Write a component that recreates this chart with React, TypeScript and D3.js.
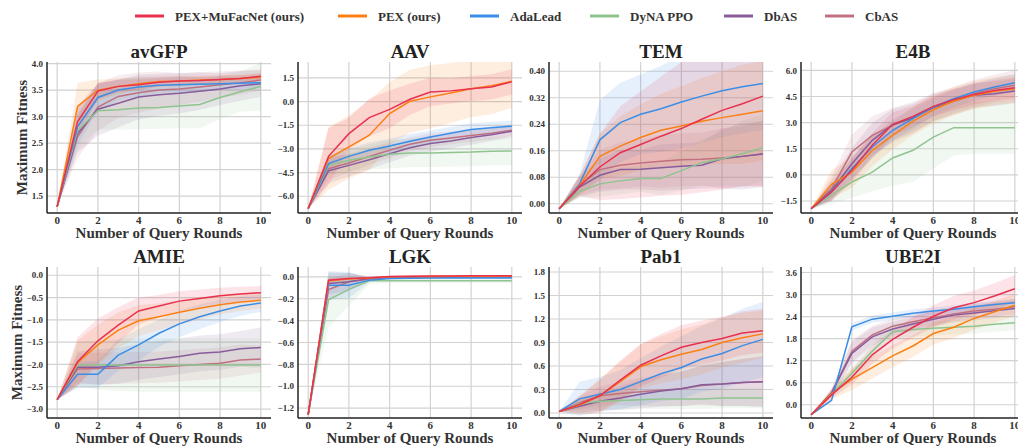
import React from "react";
import * as d3 from "d3";

// ---------- data ----------
const rounds = [0, 1, 2, 3, 4, 5, 6, 7, 8, 9, 10];
const methods = ["PEX+MuFacNet (ours)", "PEX (ours)", "AdaLead", "DyNA PPO", "DbAS", "CbAS"];
const methodColors = ["#e8304f", "#fb7f12", "#3b8ee6", "#8fc48f", "#875c9c", "#c0707f"];
const xTicks = [0, 2, 4, 6, 8, 10];

// order of series in every array: PEX+MuFacNet, PEX, AdaLead, DyNA PPO, DbAS, CbAS
const avGFPMean = [
  [1.3, 2.9, 3.48, 3.57, 3.6, 3.65, 3.67, 3.68, 3.7, 3.72, 3.76],
  [1.3, 3.19, 3.5, 3.57, 3.62, 3.66, 3.67, 3.69, 3.7, 3.72, 3.74],
  [1.3, 2.81, 3.36, 3.5, 3.56, 3.59, 3.6, 3.61, 3.62, 3.63, 3.64],
  [1.3, 2.74, 3.11, 3.13, 3.16, 3.17, 3.2, 3.23, 3.36, 3.47, 3.57],
  [1.3, 2.68, 3.14, 3.25, 3.37, 3.41, 3.44, 3.48, 3.52, 3.58, 3.62],
  [1.3, 2.62, 3.18, 3.38, 3.45, 3.5, 3.52, 3.56, 3.6, 3.64, 3.69],
];
const avGFPSd = [
  [0, 0.3, 0.15, 0.12, 0.1, 0.08, 0.08, 0.07, 0.07, 0.06, 0.06],
  [0, 0.45, 0.2, 0.15, 0.12, 0.1, 0.1, 0.08, 0.08, 0.07, 0.07],
  [0, 0.35, 0.25, 0.2, 0.18, 0.15, 0.15, 0.13, 0.12, 0.12, 0.1],
  [0, 0.35, 0.35, 0.38, 0.4, 0.4, 0.42, 0.45, 0.4, 0.38, 0.45],
  [0, 0.35, 0.5, 0.45, 0.42, 0.4, 0.38, 0.35, 0.3, 0.28, 0.25],
  [0, 0.4, 0.45, 0.4, 0.38, 0.35, 0.3, 0.28, 0.25, 0.23, 0.2],
];

const aavMean = [
  [-6.78, -3.47, -2.03, -1.01, -0.49, 0.15, 0.61, 0.68, 0.82, 0.93, 1.25],
  [-6.78, -3.61, -2.87, -2.13, -0.76, 0.02, 0.3, 0.55, 0.82, 1.0, 1.29],
  [-6.78, -3.93, -3.47, -3.08, -2.81, -2.51, -2.24, -2.0, -1.77, -1.66, -1.56],
  [-6.78, -4.04, -3.72, -3.51, -3.34, -3.25, -3.25, -3.22, -3.2, -3.15, -3.13],
  [-6.78, -4.39, -4.04, -3.68, -3.3, -2.92, -2.66, -2.5, -2.28, -2.1, -1.88],
  [-6.78, -4.25, -3.89, -3.47, -3.08, -2.7, -2.45, -2.3, -2.15, -2.0, -1.82],
];
const aavSd = [
  [0, 1.8, 1.0, 1.2, 1.2, 1.0, 0.9, 0.8, 0.8, 0.8, 0.8],
  [0, 2.0, 2.0, 2.2, 2.0, 2.0, 2.0, 1.9, 1.8, 1.8, 1.7],
  [0, 0.6, 0.5, 0.5, 0.45, 0.45, 0.4, 0.4, 0.4, 0.38, 0.35],
  [0, 0.6, 0.7, 0.8, 0.9, 0.9, 0.9, 0.9, 0.9, 0.9, 0.9],
  [0, 0.8, 0.7, 0.6, 0.55, 0.5, 0.5, 0.45, 0.45, 0.4, 0.4],
  [0, 0.7, 0.6, 0.55, 0.5, 0.45, 0.45, 0.4, 0.4, 0.4, 0.35],
];

const temMean = [
  [-0.015, 0.053, 0.111, 0.154, 0.179, 0.204, 0.227, 0.255, 0.282, 0.302, 0.325],
  [-0.015, 0.055, 0.143, 0.174, 0.2, 0.222, 0.235, 0.249, 0.26, 0.27, 0.281],
  [-0.015, 0.06, 0.193, 0.245, 0.27, 0.287, 0.307, 0.325, 0.341, 0.353, 0.363],
  [-0.015, 0.037, 0.06, 0.069, 0.076, 0.076, 0.1, 0.124, 0.136, 0.151, 0.169],
  [-0.015, 0.05, 0.086, 0.103, 0.104, 0.109, 0.113, 0.116, 0.136, 0.143, 0.15],
  [-0.015, 0.055, 0.103, 0.116, 0.123, 0.128, 0.133, 0.134, 0.138, 0.143, 0.151],
];
const temSd = [
  [0, 0.03, 0.1, 0.14, 0.16, 0.18, 0.2, 0.22, 0.24, 0.25, 0.27],
  [0, 0.03, 0.07, 0.09, 0.1, 0.11, 0.12, 0.13, 0.14, 0.15, 0.15],
  [0, 0.03, 0.12, 0.12, 0.12, 0.13, 0.14, 0.14, 0.14, 0.14, 0.14],
  [0, 0.02, 0.04, 0.04, 0.04, 0.05, 0.06, 0.07, 0.08, 0.1, 0.1],
  [0, 0.03, 0.05, 0.06, 0.06, 0.07, 0.07, 0.07, 0.09, 0.1, 0.1],
  [0, 0.03, 0.06, 0.07, 0.07, 0.08, 0.08, 0.08, 0.09, 0.09, 0.1],
];

const e4bMean = [
  [-1.94, -0.98, 0.26, 1.7, 2.9, 3.36, 3.93, 4.32, 4.62, 4.85, 5.0],
  [-1.94, -0.54, 0.16, 1.4, 2.27, 3.09, 3.74, 4.24, 4.57, 4.8, 4.95],
  [-1.94, -0.98, 0.36, 1.6, 2.56, 3.23, 3.9, 4.37, 4.76, 5.04, 5.29],
  [-1.94, -1.17, -0.41, 0.16, 0.97, 1.41, 2.17, 2.71, 2.71, 2.71, 2.71],
  [-1.94, -0.9, 0.64, 1.98, 2.88, 3.28, 3.86, 4.24, 4.57, 4.66, 4.81],
  [-1.94, -0.79, 1.31, 2.27, 2.84, 3.28, 3.9, 4.24, 4.66, 4.95, 5.14],
];
const e4bSd = [
  [0, 0.5, 0.7, 0.7, 0.7, 0.6, 0.6, 0.6, 0.6, 0.6, 0.6],
  [0, 0.8, 0.9, 0.9, 0.8, 0.8, 0.8, 0.8, 0.8, 0.8, 0.8],
  [0, 0.4, 0.6, 0.6, 0.6, 0.6, 0.5, 0.5, 0.5, 0.5, 0.5],
  [0, 0.5, 0.9, 1.1, 1.6, 1.8, 1.8, 1.6, 1.5, 1.5, 1.5],
  [0, 0.6, 0.9, 1.0, 0.9, 0.8, 0.8, 0.7, 0.7, 0.7, 0.7],
  [0, 0.7, 1.0, 1.1, 1.0, 0.9, 0.8, 0.8, 0.8, 0.8, 0.9],
];

const amieMean = [
  [-2.79, -1.94, -1.47, -1.12, -0.8, -0.69, -0.58, -0.52, -0.46, -0.42, -0.39],
  [-2.79, -1.96, -1.56, -1.23, -1.02, -0.93, -0.83, -0.74, -0.66, -0.6, -0.56],
  [-2.79, -2.22, -2.22, -1.79, -1.56, -1.3, -1.09, -0.93, -0.8, -0.69, -0.62],
  [-2.79, -2.01, -2.01, -2.01, -2.01, -2.01, -2.01, -2.01, -2.01, -2.01, -2.01],
  [-2.79, -2.06, -2.06, -2.03, -1.94, -1.88, -1.82, -1.75, -1.72, -1.65, -1.62],
  [-2.79, -2.1, -2.09, -2.08, -2.07, -2.06, -2.03, -2.0, -1.97, -1.9, -1.88],
];
const amieSd = [
  [0, 0.55, 0.5, 0.4, 0.3, 0.25, 0.22, 0.2, 0.18, 0.16, 0.15],
  [0, 0.5, 0.45, 0.4, 0.35, 0.3, 0.28, 0.25, 0.22, 0.2, 0.18],
  [0, 0.3, 0.3, 0.35, 0.35, 0.3, 0.3, 0.28, 0.25, 0.22, 0.2],
  [0, 0.5, 0.55, 0.58, 0.6, 0.6, 0.6, 0.6, 0.6, 0.6, 0.6],
  [0, 0.35, 0.4, 0.4, 0.4, 0.4, 0.4, 0.4, 0.4, 0.4, 0.45],
  [0, 0.35, 0.35, 0.35, 0.35, 0.35, 0.35, 0.35, 0.35, 0.35, 0.3],
];

const lgkMean = [
  [-1.26, -0.03, -0.015, -0.008, 0.004, 0.006, 0.007, 0.008, 0.009, 0.01, 0.01],
  [-1.26, -0.036, -0.02, -0.01, 0.0, 0.003, 0.004, 0.005, 0.006, 0.006, 0.007],
  [-1.26, -0.076, -0.076, -0.03, -0.015, -0.012, -0.011, -0.01, -0.01, -0.01, -0.01],
  [-1.26, -0.21, -0.115, -0.036, -0.036, -0.036, -0.036, -0.036, -0.036, -0.036, -0.036],
  [-1.26, -0.06, -0.045, -0.015, -0.005, -0.003, -0.002, -0.001, 0.0, 0.0, 0.0],
  [-1.26, -0.115, -0.045, -0.02, -0.008, -0.005, -0.003, -0.002, 0.0, 0.0, 0.0],
];
const lgkSd = [
  [0, 0.02, 0.01, 0.005, 0.005, 0.005, 0.005, 0.005, 0.005, 0.005, 0.005],
  [0, 0.03, 0.015, 0.008, 0.005, 0.005, 0.005, 0.005, 0.005, 0.005, 0.005],
  [0, 0.13, 0.12, 0.02, 0.01, 0.01, 0.01, 0.01, 0.01, 0.01, 0.01],
  [0, 0.25, 0.15, 0.03, 0.02, 0.02, 0.02, 0.02, 0.02, 0.02, 0.02],
  [0, 0.1, 0.08, 0.02, 0.01, 0.01, 0.01, 0.01, 0.01, 0.01, 0.01],
  [0, 0.1, 0.08, 0.02, 0.01, 0.01, 0.01, 0.01, 0.01, 0.01, 0.01],
];

const pab1Mean = [
  [0.02, 0.11, 0.22, 0.42, 0.61, 0.73, 0.84, 0.9, 0.95, 1.02, 1.05],
  [0.02, 0.1, 0.22, 0.4, 0.59, 0.68, 0.75, 0.81, 0.9, 0.96, 1.01],
  [0.02, 0.18, 0.24, 0.3, 0.4, 0.5, 0.58, 0.69, 0.76, 0.86, 0.94],
  [0.02, 0.12, 0.15, 0.16, 0.17, 0.18, 0.18, 0.18, 0.19, 0.19, 0.19],
  [0.02, 0.085, 0.15, 0.19, 0.24, 0.28, 0.31, 0.36, 0.37, 0.39, 0.4],
  [0.02, 0.13, 0.22, 0.25, 0.27, 0.29, 0.31, 0.35, 0.37, 0.39, 0.4],
];
const pab1Sd = [
  [0, 0.1, 0.2, 0.25, 0.27, 0.28, 0.28, 0.28, 0.28, 0.28, 0.28],
  [0, 0.12, 0.22, 0.25, 0.28, 0.3, 0.32, 0.32, 0.32, 0.32, 0.3],
  [0, 0.22, 0.22, 0.25, 0.3, 0.35, 0.4, 0.42, 0.45, 0.47, 0.48],
  [0, 0.08, 0.1, 0.12, 0.12, 0.13, 0.13, 0.13, 0.13, 0.13, 0.13],
  [0, 0.08, 0.12, 0.15, 0.18, 0.2, 0.22, 0.25, 0.28, 0.3, 0.32],
  [0, 0.08, 0.12, 0.15, 0.18, 0.2, 0.22, 0.25, 0.28, 0.3, 0.32],
];

const ube2iMean = [
  [-0.27, 0.27, 0.75, 1.36, 1.78, 2.11, 2.41, 2.64, 2.78, 2.96, 3.16],
  [-0.27, 0.3, 0.7, 1.01, 1.33, 1.6, 1.94, 2.11, 2.35, 2.53, 2.71],
  [-0.27, 0.12, 2.12, 2.33, 2.41, 2.49, 2.55, 2.6, 2.67, 2.73, 2.78],
  [-0.27, 0.29, 0.86, 1.46, 1.99, 2.05, 2.08, 2.11, 2.14, 2.19, 2.23],
  [-0.27, 0.32, 1.4, 1.85, 2.06, 2.2, 2.33, 2.44, 2.5, 2.56, 2.62],
  [-0.27, 0.33, 1.46, 1.9, 2.14, 2.26, 2.37, 2.47, 2.55, 2.6, 2.67],
];
const ube2iSd = [
  [0, 0.1, 0.2, 0.25, 0.25, 0.28, 0.3, 0.32, 0.33, 0.35, 0.37],
  [0, 0.15, 0.3, 0.3, 0.3, 0.3, 0.3, 0.3, 0.3, 0.3, 0.3],
  [0, 0.05, 0.1, 0.1, 0.1, 0.1, 0.1, 0.1, 0.1, 0.1, 0.1],
  [0, 0.1, 0.2, 0.2, 0.2, 0.2, 0.2, 0.2, 0.2, 0.2, 0.2],
  [0, 0.1, 0.3, 0.25, 0.2, 0.2, 0.2, 0.2, 0.2, 0.2, 0.2],
  [0, 0.1, 0.3, 0.25, 0.2, 0.2, 0.2, 0.2, 0.2, 0.2, 0.2],
];

const panelTitles = ["avGFP", "AAV", "TEM", "E4B", "AMIE", "LGK", "Pab1", "UBE2I"];
const panelMeans = [avGFPMean, aavMean, temMean, e4bMean, amieMean, lgkMean, pab1Mean, ube2iMean];
const panelSds = [avGFPSd, aavSd, temSd, e4bSd, amieSd, lgkSd, pab1Sd, ube2iSd];
const panelYDomains: [number, number][] = [
  [1.18, 4.03], [-7.06, 2.51], [-0.028, 0.428], [-2.19, 6.48],
  [-3.2, 0.185], [-1.29, 0.09], [-0.064, 1.864], [-0.36, 3.75],
];
const panelYTicks = [
  [1.5, 2.0, 2.5, 3.0, 3.5, 4.0],
  [-6.0, -4.5, -3.0, -1.5, 0.0, 1.5],
  [0.0, 0.08, 0.16, 0.24, 0.32, 0.4],
  [-1.5, 0.0, 1.5, 3.0, 4.5, 6.0],
  [-3.0, -2.5, -2.0, -1.5, -1.0, -0.5, 0.0],
  [-1.2, -1.0, -0.8, -0.6, -0.4, -0.2, 0.0],
  [0.0, 0.3, 0.6, 0.9, 1.2, 1.5, 1.8],
  [0.0, 0.6, 1.2, 1.8, 2.4, 3.0, 3.6],
];
const panelYFormats = [".1f", ".1f", ".2f", ".1f", ".1f", ".1f", ".1f", ".1f"];

// ---------- layout ----------
const W = 1018;
const H = 447;
const colLefts = [47, 298, 549, 801];
const rowTops = [62, 267];
const plotW = 224;
const plotH = 151;
const legendX = [135, 338, 470, 590, 724, 825];
const serif: React.CSSProperties = {
  fontFamily: '"Liberation Serif", "Times New Roman", Times, "DejaVu Serif", serif',
  fontWeight: 700,
};

function Panel({ idx }: { idx: number }) {
  const col = idx % 4;
  const row = Math.floor(idx / 4);
  const x0 = colLefts[col];
  const y0 = rowTops[row];
  const x = d3.scaleLinear().domain([-0.5, 10.5]).range([0, plotW]);
  const y = d3.scaleLinear().domain(panelYDomains[idx]).range([plotH, 0]);
  const fmt = d3.format(panelYFormats[idx]);
  const line = d3
    .line<number>()
    .x((_, i) => x(rounds[i]))
    .y((v) => y(v));
  const means = panelMeans[idx];
  const sds = panelSds[idx];
  const order = [5, 4, 3, 2, 1, 0];
  const clipId = `clip-${idx}`;
  return (
    <g transform={`translate(${x0},${y0})`}>
      <defs>
        <clipPath id={clipId}>
          <rect x={0} y={0} width={plotW} height={plotH} />
        </clipPath>
      </defs>
      {xTicks.map((t) => (
        <line key={`gx${t}`} x1={x(t)} x2={x(t)} y1={0} y2={plotH} stroke="#d2d2d2" strokeWidth={1.2} />
      ))}
      {panelYTicks[idx].map((t) => (
        <line key={`gy${t}`} x1={0} x2={plotW} y1={y(t)} y2={y(t)} stroke="#d2d2d2" strokeWidth={1.2} />
      ))}
      <g clipPath={`url(#${clipId})`}>
        {order.map((s) => {
          const area = d3
            .area<number>()
            .x((_, i) => x(rounds[i]))
            .y0((v, i) => y(v - sds[s][i]))
            .y1((v, i) => y(v + sds[s][i]));
          return (
            <path key={`a${s}`} d={area(means[s]) || ""} fill={methodColors[s]} fillOpacity={0.13} stroke="none" />
          );
        })}
        {order.map((s) => (
          <path key={`l${s}`} d={line(means[s]) || ""} fill="none" stroke={methodColors[s]} strokeWidth={1.5} />
        ))}
      </g>
      <line x1={0} x2={0} y1={0} y2={plotH} stroke="#222" strokeWidth={1.5} />
      <line x1={0} x2={plotW} y1={plotH} y2={plotH} stroke="#222" strokeWidth={1.5} />
      {panelYTicks[idx].map((t) => (
        <text key={`ty${t}`} x={-4} y={y(t)} dy="0.35em" textAnchor="end" style={{ ...serif, fontSize: 9 }} fill="#333">
          {fmt(t)}
        </text>
      ))}
      {xTicks.map((t) => (
        <text key={`tx${t}`} x={x(t)} y={plotH + 11} textAnchor="middle" style={{ ...serif, fontSize: 11 }} fill="#333">
          {t}
        </text>
      ))}
      <text x={plotW / 2} y={plotH + 25} textAnchor="middle" style={{ ...serif, fontSize: 15 }} fill="#333">
        Number of Query Rounds
      </text>
      <text x={plotW / 2} y={-4.5} textAnchor="middle" style={{ ...serif, fontSize: 19 }} fill="#222">
        {panelTitles[idx]}
      </text>
      {col === 0 && (
        <text
          transform={`translate(${row === 0 ? -20 : -25},${plotH / 2}) rotate(-90)`}
          textAnchor="middle"
          style={{ ...serif, fontSize: 15 }}
          fill="#333"
        >
          Maximum Fitness
        </text>
      )}
    </g>
  );
}

export default function App() {
  return (
    <svg
      width={W}
      height={H}
      viewBox={`0 0 ${W} ${H}`}
      style={{ position: "absolute", left: 0, top: 0, background: "#fff" }}
    >
      <rect x={0} y={0} width={W} height={H} fill="#fff" />
      {methods.map((m, i) => (
        <g key={m}>
          <line x1={legendX[i]} x2={legendX[i] + 29} y1={16} y2={16} stroke={methodColors[i]} strokeWidth={3} />
          <text x={legendX[i] + 40} y={21} style={{ ...serif, fontSize: 13 }} fill="#333">
            {m}
          </text>
        </g>
      ))}
      {panelTitles.map((_, i) => (
        <Panel key={i} idx={i} />
      ))}
    </svg>
  );
}
